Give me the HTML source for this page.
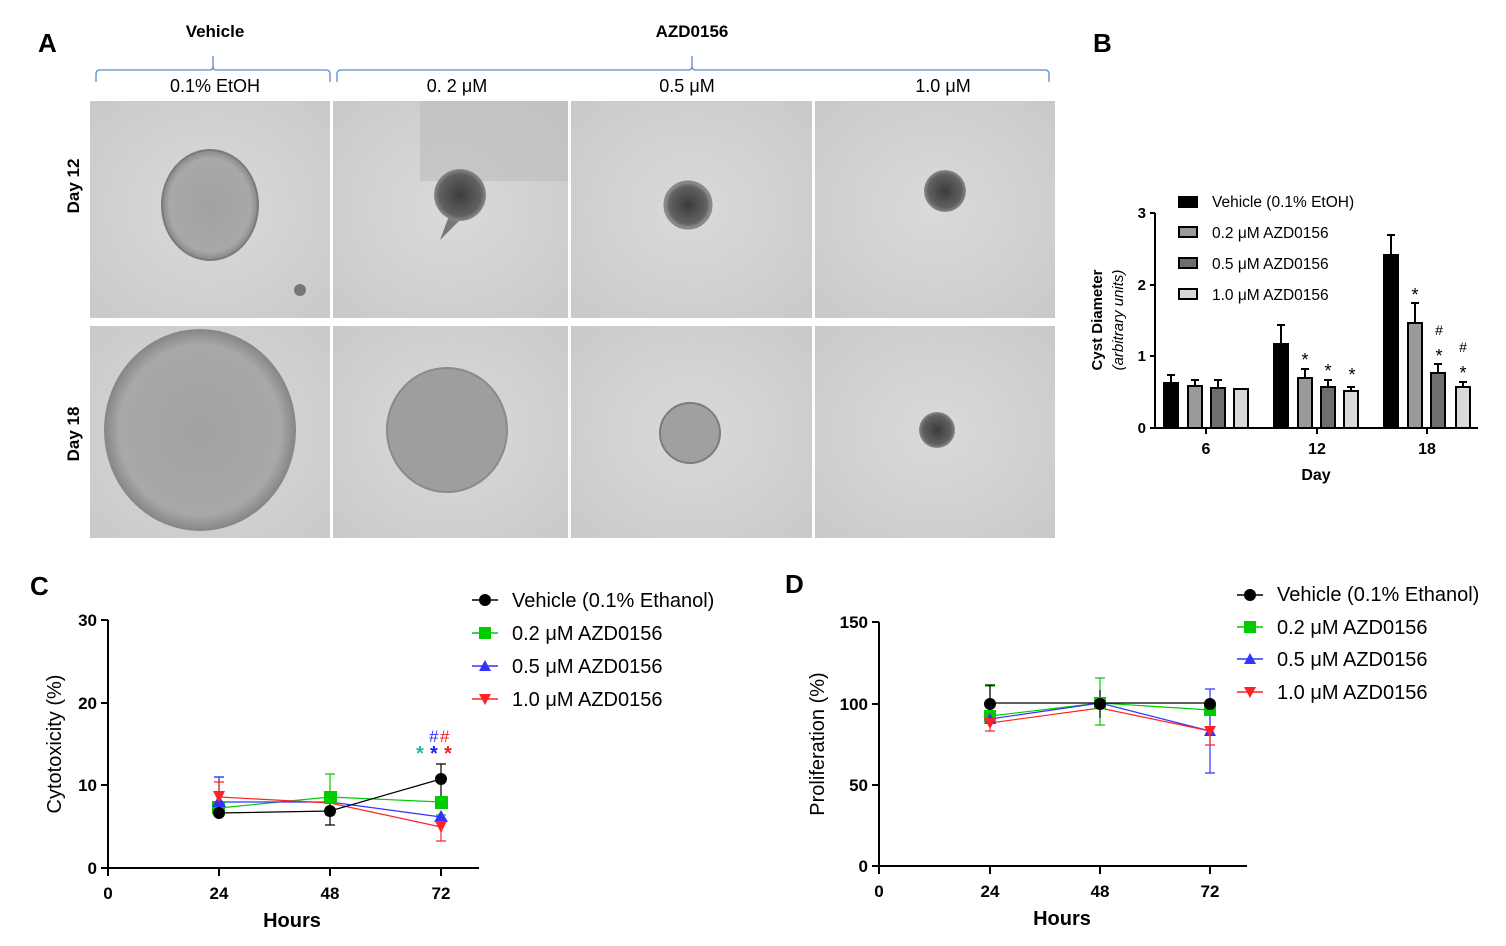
<!DOCTYPE html>
<html><head><meta charset="utf-8"><style>body{margin:0;background:#fff}svg{display:block}text{font-family:"Liberation Sans",sans-serif}</style></head><body>
<svg width="1506" height="946" viewBox="0 0 1506 946" xmlns="http://www.w3.org/2000/svg">
<defs>
<radialGradient id="bg" cx="50%" cy="50%" r="70%"><stop offset="0" stop-color="#dadada"/><stop offset="1" stop-color="#c9c9c9"/></radialGradient>
<radialGradient id="dk" cx="50%" cy="50%" r="50%"><stop offset="0" stop-color="#3c3c3c"/><stop offset="0.8" stop-color="#606060"/><stop offset="1" stop-color="#8a8a8a"/></radialGradient>
<radialGradient id="md" cx="50%" cy="50%" r="50%"><stop offset="0" stop-color="#a2a2a2"/><stop offset="0.85" stop-color="#a8a8a8"/><stop offset="1" stop-color="#888"/></radialGradient>
</defs>
<!-- Panel A -->
<text x="38" y="52" font-size="26" font-weight="bold">A</text>
<text x="215" y="37" font-size="17" font-weight="bold" text-anchor="middle">Vehicle</text>
<text x="692" y="37" font-size="17" font-weight="bold" text-anchor="middle">AZD0156</text>
<path d="M96,82 V74 Q96,70 100,70 H210 Q213,70 213,66 V56 M213,66 Q213,70 216,70 H326 Q330,70 330,74 V82" fill="none" stroke="#5b8bd0" stroke-width="1.3"/>
<path d="M337,82 V74 Q337,70 341,70 H688 Q692,70 692,66 V56 M692,66 Q692,70 696,70 H1045 Q1049,70 1049,74 V82" fill="none" stroke="#5b8bd0" stroke-width="1.3"/>
<text x="215" y="92" font-size="18" text-anchor="middle">0.1% EtOH</text>
<text x="457" y="92" font-size="18" text-anchor="middle">0. 2 μM</text>
<text x="687" y="92" font-size="18" text-anchor="middle">0.5 μM</text>
<text x="943" y="92" font-size="18" text-anchor="middle">1.0 μM</text>
<text transform="translate(79,186) rotate(-90)" font-size="17" font-weight="bold" text-anchor="middle">Day 12</text>
<text transform="translate(79,434) rotate(-90)" font-size="17" font-weight="bold" text-anchor="middle">Day 18</text>
<g>
<rect x="90" y="101" width="240" height="217" fill="url(#bg)"/>
<rect x="333" y="101" width="235" height="217" fill="url(#bg)"/>
<rect x="571" y="101" width="241" height="217" fill="url(#bg)"/>
<rect x="815" y="101" width="240" height="217" fill="url(#bg)"/>
<rect x="90" y="326" width="240" height="212" fill="url(#bg)"/>
<rect x="333" y="326" width="235" height="212" fill="url(#bg)"/>
<rect x="571" y="326" width="241" height="212" fill="url(#bg)"/>
<rect x="815" y="326" width="240" height="212" fill="url(#bg)"/>
<rect x="420" y="101" width="148" height="80" fill="#bdbdbd" opacity="0.6"/>
<ellipse cx="210" cy="205" rx="48" ry="55" fill="url(#md)" stroke="#7a7a7a" stroke-width="2"/>
<circle cx="300" cy="290" r="6" fill="#777"/>
<path d="M440,240 L455,200 L470,210 Z" fill="#777"/>
<circle cx="460" cy="195" r="26" fill="url(#dk)"/>
<circle cx="688" cy="205" r="23" fill="url(#dk)" stroke="#888" stroke-width="3"/>
<circle cx="945" cy="191" r="21" fill="url(#dk)"/>
<ellipse cx="200" cy="430" rx="95" ry="100" fill="url(#md)" stroke="#888" stroke-width="2"/>
<ellipse cx="447" cy="430" rx="60" ry="62" fill="#9e9e9e" stroke="#8a8a8a" stroke-width="2"/>
<circle cx="690" cy="433" r="30" fill="#a0a0a0" stroke="#7c7c7c" stroke-width="2"/>
<circle cx="937" cy="430" r="18" fill="url(#dk)"/>
</g>
<!-- Panel B -->
<text x="1093" y="52" font-size="26" font-weight="bold">B</text>
<g font-size="15.5">
<rect x="1178" y="196" width="20" height="12" fill="#000"/><text x="1212" y="207">Vehicle (0.1% EtOH)</text>
<rect x="1179" y="227" width="18" height="10" fill="#9a9a9a" stroke="#000" stroke-width="2"/><text x="1212" y="238">0.2 μM AZD0156</text>
<rect x="1179" y="258" width="18" height="10" fill="#6e6e6e" stroke="#000" stroke-width="2"/><text x="1212" y="269">0.5 μM AZD0156</text>
<rect x="1179" y="289" width="18" height="10" fill="#d9d9d9" stroke="#000" stroke-width="2"/><text x="1212" y="300">1.0 μM AZD0156</text>
</g>
<g stroke="#000" stroke-width="2" fill="none">
<path d="M1155,213 V428 H1478"/>
<path d="M1150,213 H1155 M1150,285 H1155 M1150,356 H1155 M1150,428 H1155 M1206,428 V434 M1317,428 V434 M1427,428 V434"/>
</g>
<g font-size="15" font-weight="bold" text-anchor="end"><text x="1146" y="218">3</text><text x="1146" y="290">2</text><text x="1146" y="361">1</text><text x="1146" y="433">0</text></g>
<g font-size="16" font-weight="bold" text-anchor="middle"><text x="1206" y="454">6</text><text x="1317" y="454">12</text><text x="1427" y="454">18</text><text x="1316" y="480">Day</text></g>
<text transform="translate(1102,320) rotate(-90)" font-size="15" font-weight="bold" text-anchor="middle">Cyst Diameter</text>
<text transform="translate(1123,320) rotate(-90)" font-size="15" font-style="italic" text-anchor="middle">(arbitrary units)</text>
<g stroke="#000" stroke-width="2">
<path d="M1171,383 V375 M1195,386 V380 M1218,387 V380 M1281,344 V325 M1305,378 V369 M1328,387 V380 M1351,391 V387 M1391,255 V235 M1415,323 V303 M1438,373 V364 M1463,387 V382" />
<path d="M1167,375 H1175 M1191,380 H1199 M1214,380 H1222 M1277,325 H1285 M1301,369 H1309 M1324,380 H1332 M1347,387 H1355 M1387,235 H1395 M1411,303 H1419 M1434,364 H1442 M1459,382 H1467"/>
<rect x="1164" y="383" width="14" height="45" fill="#000"/>
<rect x="1188" y="386" width="14" height="42" fill="#9a9a9a"/>
<rect x="1211" y="388" width="14" height="40" fill="#6e6e6e"/>
<rect x="1234" y="389" width="14" height="39" fill="#d9d9d9"/>
<rect x="1274" y="344" width="14" height="84" fill="#000"/>
<rect x="1298" y="378" width="14" height="50" fill="#9a9a9a"/>
<rect x="1321" y="387" width="14" height="41" fill="#6e6e6e"/>
<rect x="1344" y="391" width="14" height="37" fill="#d9d9d9"/>
<rect x="1384" y="255" width="14" height="173" fill="#000"/>
<rect x="1408" y="323" width="14" height="105" fill="#9a9a9a"/>
<rect x="1431" y="373" width="14" height="55" fill="#6e6e6e"/>
<rect x="1456" y="387" width="14" height="41" fill="#d9d9d9"/>
</g>
<g font-size="18" text-anchor="middle"><text x="1305" y="366">*</text><text x="1328" y="377">*</text><text x="1352" y="381">*</text><text x="1415" y="301">*</text><text x="1439" y="362">*</text><text x="1463" y="379">*</text></g>
<g font-size="14" text-anchor="middle"><text x="1439" y="335">#</text><text x="1463" y="352">#</text></g>
<!-- Panel C -->
<text x="30" y="595" font-size="26" font-weight="bold">C</text>
<g stroke="#000" stroke-width="2" fill="none">
<path d="M108,620 V868 H479"/>
<path d="M101,620 H108 M101,703 H108 M101,785 H108 M101,868 H108 M108,868 V876 M219,868 V876 M330,868 V876 M441,868 V876"/>
</g>
<g font-size="17" font-weight="bold" text-anchor="end"><text x="97" y="626">30</text><text x="97" y="709">20</text><text x="97" y="791">10</text><text x="97" y="874">0</text></g>
<g font-size="17" font-weight="bold" text-anchor="middle"><text x="108" y="899">0</text><text x="219" y="899">24</text><text x="330" y="899">48</text><text x="441" y="899">72</text><text x="292" y="927" font-size="20">Hours</text></g>
<text transform="translate(61,744) rotate(-90)" font-size="20" text-anchor="middle">Cytotoxicity (%)</text>
<g fill="none" stroke-width="1.2">
<path d="M219,797 V777 M214,777 H224 M330,815 V774 M325,815 H335 M325,774 H335 M441,832 V815 M436,815 H446" stroke="#0c0"/>
<path d="M219,807 V777 M214,777 H224 M214,807 H224" stroke="#33f"/>
<path d="M219,810 V782 M214,782 H224" stroke="#f22"/>
<path d="M441,827 V841 M436,841 H446" stroke="#f22"/>
<path d="M219,812 V800 M330,798 V825 M325,798 H335 M325,825 H335 M441,764 V798 M436,764 H446 M436,798 H446" stroke="#000"/>
<polyline points="219,808 330,797 441,802" stroke="#0c0"/>
<polyline points="219,802 330,802 441,817" stroke="#33f"/>
<polyline points="219,797 330,803 441,827" stroke="#f22"/>
<polyline points="219,813 330,811 441,779" stroke="#000"/>
</g>
<rect x="212" y="801" width="13" height="13" fill="#0c0"/><rect x="324" y="791" width="13" height="13" fill="#0c0"/><rect x="435" y="796" width="13" height="13" fill="#0c0"/>
<path d="M219,795 L226,807 H212Z M441,810 L448,822 H434Z" fill="#33f"/>
<path d="M213,791 H225 L219,803Z M435,821 H447 L441,833Z" fill="#f22"/>
<circle cx="219" cy="813" r="6" fill="#000"/><circle cx="330" cy="811" r="6" fill="#000"/><circle cx="441" cy="779" r="6" fill="#000"/>
<g font-size="20" font-weight="bold"><text x="416" y="760" fill="#2b9">*</text><text x="430" y="760" fill="#22e">*</text><text x="444" y="760" fill="#e22">*</text></g>
<g font-size="17"><text x="429" y="742" fill="#33f">#</text><text x="440" y="742" fill="#e22">#</text></g>
<g font-size="20">
<path d="M472,600 H498" stroke="#000" stroke-width="1.5"/><circle cx="485" cy="600" r="6"/><text x="512" y="607">Vehicle (0.1% Ethanol)</text>
<path d="M472,633 H498" stroke="#0c0" stroke-width="1.5"/><rect x="479" y="627" width="12" height="12" fill="#0c0"/><text x="512" y="640">0.2 μM AZD0156</text>
<path d="M472,666 H498" stroke="#33f" stroke-width="1.5"/><path d="M485,660 L491,671 H479Z" fill="#33f"/><text x="512" y="673">0.5 μM AZD0156</text>
<path d="M472,699 H498" stroke="#f22" stroke-width="1.5"/><path d="M479,694 H491 L485,705Z" fill="#f22"/><text x="512" y="706">1.0 μM AZD0156</text>
</g>
<!-- Panel D -->
<text x="785" y="593" font-size="26" font-weight="bold">D</text>
<g stroke="#000" stroke-width="2" fill="none">
<path d="M879,622 V866 H1247"/>
<path d="M872,622 H879 M872,704 H879 M872,785 H879 M872,866 H879 M879,866 V874 M990,866 V874 M1100,866 V874 M1210,866 V874"/>
</g>
<g font-size="17" font-weight="bold" text-anchor="end"><text x="868" y="628">150</text><text x="868" y="710">100</text><text x="868" y="791">50</text><text x="868" y="872">0</text></g>
<g font-size="17" font-weight="bold" text-anchor="middle"><text x="879" y="897">0</text><text x="990" y="897">24</text><text x="1100" y="897">48</text><text x="1210" y="897">72</text><text x="1062" y="925" font-size="20">Hours</text></g>
<text transform="translate(824,744) rotate(-90)" font-size="20" text-anchor="middle">Proliferation (%)</text>
<g fill="none" stroke-width="1.2">
<path d="M990,686 V722 M985,686 H995 M1100,678 V725 M1095,678 H1105 M1095,725 H1105 M1210,705 V738" stroke="#0c0"/>
<path d="M1210,689 V773 M1205,689 H1215 M1205,773 H1215" stroke="#33f"/>
<path d="M990,720 V731 M985,731 H995 M1210,730 V745 M1205,745 H1215" stroke="#f22"/>
<path d="M990,685 V722 M985,685 H995 M1100,690 V718 M1210,700 V708" stroke="#000"/>
<polyline points="990,716 1100,703 1210,710" stroke="#0c0"/>
<polyline points="990,719 1100,703 1210,731" stroke="#33f"/>
<polyline points="990,723 1100,708 1210,731" stroke="#f22"/>
<polyline points="990,703 1100,703 1210,703" stroke="#000"/>
</g>
<rect x="984" y="710" width="12" height="12" fill="#0c0"/><rect x="1094" y="697" width="12" height="12" fill="#0c0"/><rect x="1204" y="704" width="12" height="12" fill="#0c0"/>
<path d="M990,713 L996,724 H984Z M1210,725 L1216,736 H1204Z" fill="#33f"/>
<path d="M984,718 H996 L990,729Z M1204,726 H1216 L1210,737Z" fill="#f22"/>
<circle cx="990" cy="704" r="6"/><circle cx="1100" cy="704" r="6"/><circle cx="1210" cy="704" r="6"/>
<g font-size="20">
<path d="M1237,595 H1263" stroke="#000" stroke-width="1.5"/><circle cx="1250" cy="595" r="6"/><text x="1277" y="601">Vehicle (0.1% Ethanol)</text>
<path d="M1237,627 H1263" stroke="#0c0" stroke-width="1.5"/><rect x="1244" y="621" width="12" height="12" fill="#0c0"/><text x="1277" y="634">0.2 μM AZD0156</text>
<path d="M1237,659 H1263" stroke="#33f" stroke-width="1.5"/><path d="M1250,653 L1256,664 H1244Z" fill="#33f"/><text x="1277" y="666">0.5 μM AZD0156</text>
<path d="M1237,692 H1263" stroke="#f22" stroke-width="1.5"/><path d="M1244,687 H1256 L1250,698Z" fill="#f22"/><text x="1277" y="699">1.0 μM AZD0156</text>
</g>
</svg>
</body></html>
